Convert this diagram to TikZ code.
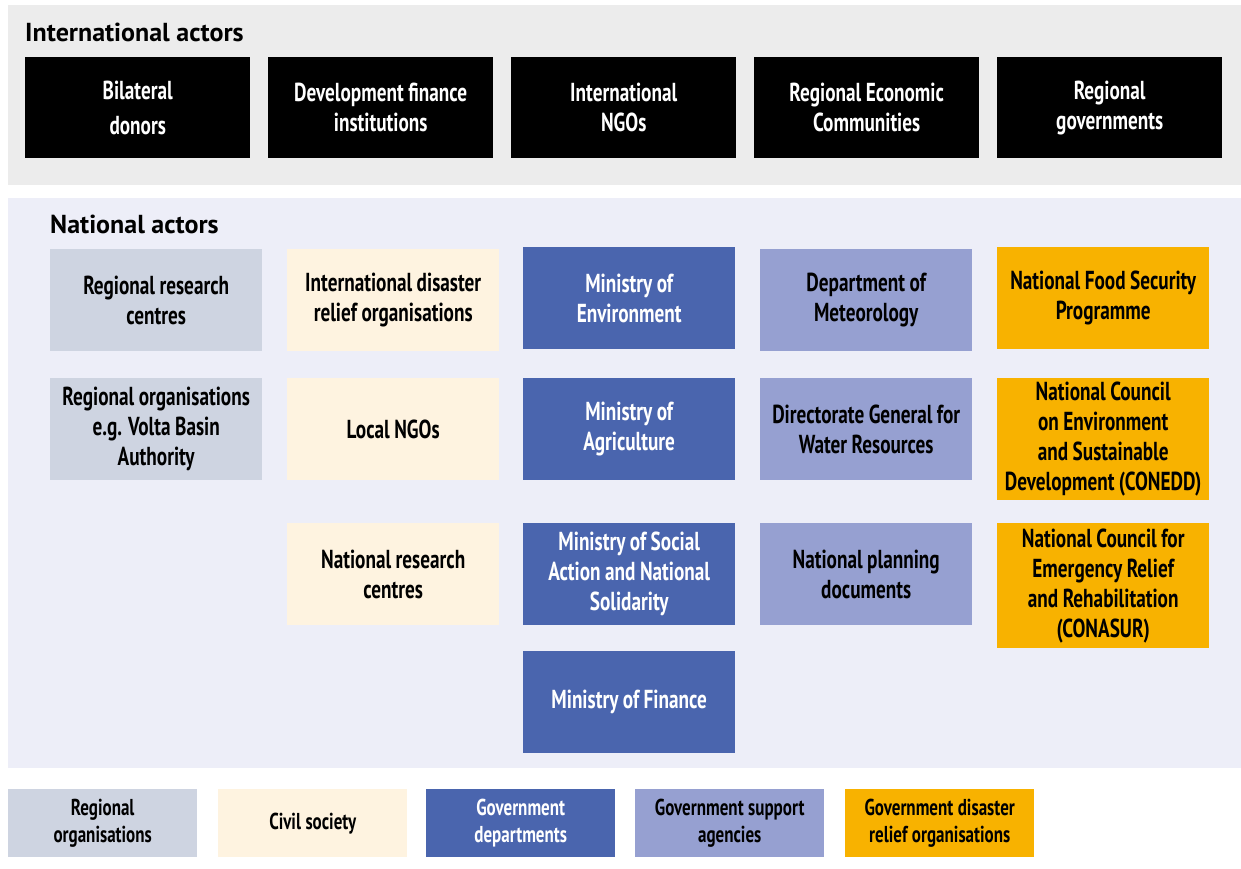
\documentclass[tikz,border=0pt]{standalone}
\usepackage{fontspec}
\setmainfont{PT Sans}
\newfontfamily\condfont[FakeStretch=0.74]{PT Sans}
\newfontfamily\headfont[FakeStretch=1.0]{PT Sans}
\newcommand\boxfont[2]{\condfont\bfseries\fontsize{#1}{#2}\selectfont\spaceskip=4.5pt plus 1pt minus 1pt\relax}
\definecolor{intbg}{HTML}{ECECEC}
\definecolor{natbg}{HTML}{EDEEF8}
\definecolor{regc}{HTML}{CED4E1}
\definecolor{civc}{HTML}{FEF3E0}
\definecolor{depc}{HTML}{4A65AE}
\definecolor{supc}{HTML}{96A0D1}
\definecolor{disc}{HTML}{F8B200}
\begin{document}
\begin{tikzpicture}[x=1pt,y=-1pt,
  cbox/.style={anchor=north west, inner sep=2pt, align=flush center, minimum width=212pt, minimum height=102pt, text width=208pt,
    font=\boxfont{26}{30}},
  ibox/.style={cbox, fill=black, text=white, minimum width=225pt, minimum height=101pt, text width=218pt},
  reg/.style={cbox, fill=regc, text=black},
  civ/.style={cbox, fill=civc, text=black},
  dep/.style={cbox, fill=depc, text=white},
  sup/.style={cbox, fill=supc, text=black},
  dis/.style={cbox, fill=disc, text=black},
  lbox/.style={minimum width=189pt, minimum height=68pt, text width=184pt, font=\boxfont{23}{27}},
  htitle/.style={anchor=west, inner sep=0pt, font=\headfont\bfseries\fontsize{26}{30}\selectfont}
]
\useasboundingbox (0,0) rectangle (1241,869);
\fill[white] (0,0) rectangle (1241,869);
% panels
\fill[intbg] (8,5) rectangle (1241,185);
\fill[natbg] (8,198) rectangle (1241,768);
\node[htitle] (tint) at (25,32) {International actors};
\node[htitle] (tnat) at (50,224) {National actors};
% international boxes
\node[ibox, font=\boxfont{26}{35}] (bil) at (25,57) {Bilateral\\donors};
\node[ibox] (dfi) at (268,57) {Development finance\\institutions};
\node[ibox] (ingo) at (511,57) {International\\NGOs};
\node[ibox] (rec) at (754,57) {Regional Economic\\Communities};
\node[ibox] (rgov) at (997,57) {Regional\\governments};
% column 1
\node[reg] (rrc) at (50,249) {Regional research\\centres};
\node[reg] (rorg) at (50,378) {Regional organisations\\e.g. Volta Basin\\Authority};
% column 2
\node[civ] (idro) at (287,249) {International disaster\\relief organisations};
\node[civ] (lngo) at (287,378) {Local NGOs};
\node[civ] (nrc) at (287,523) {National research\\centres};
% column 3
\node[dep] (menv) at (523,247) {Ministry of\\Environment};
\node[dep] (magr) at (523,378) {Ministry of\\Agriculture};
\node[dep] (msoc) at (523,523) {Ministry of Social\\Action and National\\Solidarity};
\node[dep] (mfin) at (523,651) {Ministry of Finance};
% column 4
\node[sup] (met) at (760,249) {Department of\\Meteorology};
\node[sup] (dgwr) at (760,378) {Directorate General for\\Water Resources};
\node[sup] (npd) at (760,523) {National planning\\documents};
% column 5
\node[dis] (nfsp) at (997,247) {National Food Security\\Programme};
\node[dis, minimum height=122pt] (conedd) at (997,378) {National Council\\on Environment\\and Sustainable\\Development (CONEDD)};
\node[dis, minimum height=125pt] (conasur) at (997,523) {National Council for\\Emergency Relief\\and Rehabilitation\\(CONASUR)};
% legend
\node[reg, lbox] (lreg) at (8,789) {Regional\\organisations};
\node[civ, lbox] (lciv) at (218,789) {Civil society};
\node[dep, lbox] (ldep) at (426,789) {Government\\departments};
\node[sup, lbox] (lsup) at (635,789) {Government support\\agencies};
\node[dis, lbox] (ldis) at (845,789) {Government disaster\\relief organisations};
\end{tikzpicture}
\end{document}
